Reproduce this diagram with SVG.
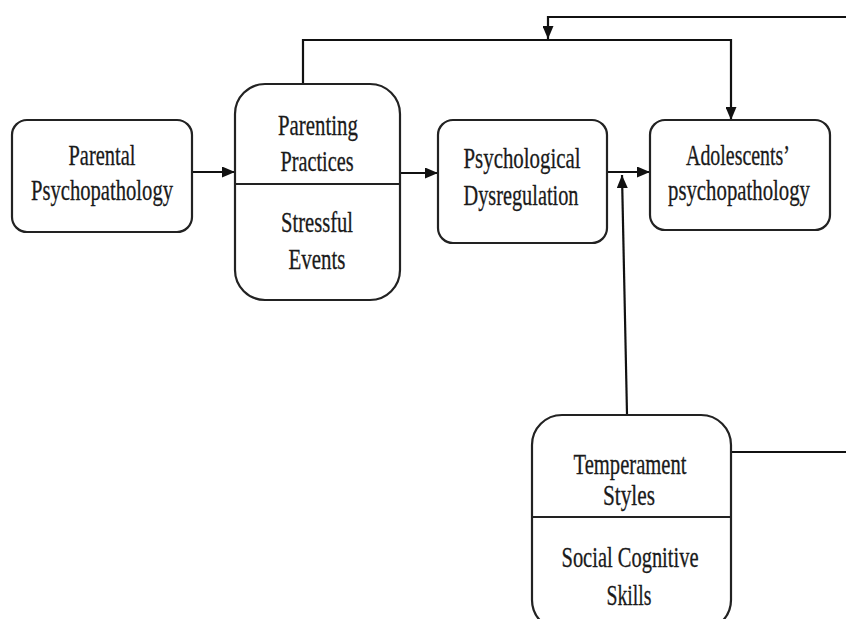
<svg xmlns="http://www.w3.org/2000/svg" width="846" height="619" viewBox="0 0 846 619">
<defs>
<marker id="ah" viewBox="0 0 13 11" refX="13" refY="5.5" markerWidth="13" markerHeight="11" markerUnits="userSpaceOnUse" orient="auto">
<path d="M0,0 L13,5.5 L0,11 Z" fill="#111"/>
</marker>
</defs>
<style>
.box{fill:#fff;stroke:#222;stroke-width:2.2}
.div{stroke:#222;stroke-width:2.2}
.ln{fill:none;stroke:#111;stroke-width:2.2}
.t{font-family:"Liberation Serif","Times New Roman","DejaVu Serif",serif;font-size:30px;fill:#1a1a1a;stroke:#1a1a1a;stroke-width:0.3;text-anchor:middle}
</style>
<rect width="846" height="619" fill="#fff"/>
<g id="connectors">
<polyline class="ln" points="846,17 548,17 548,39" marker-end="url(#ah)"/>
<polyline class="ln" points="303,84 303,40 731,40 731,120" marker-end="url(#ah)"/>
<line class="ln" x1="192" y1="172" x2="235" y2="172" marker-end="url(#ah)"/>
<line class="ln" x1="400" y1="173" x2="438" y2="173" marker-end="url(#ah)"/>
<line class="ln" x1="607" y1="172" x2="650" y2="172" marker-end="url(#ah)"/>
<line class="ln" x1="627" y1="414" x2="622" y2="175" stroke-width="1.6" marker-end="url(#ah)"/>
<line class="ln" x1="731" y1="452" x2="846" y2="452"/>
</g>
<g id="parental">
<rect class="box" x="12" y="120" width="180" height="112" rx="15"/>
<text class="t" x="102" y="165" textLength="67" lengthAdjust="spacingAndGlyphs">Parental</text>
<text class="t" x="102" y="200" textLength="142" lengthAdjust="spacingAndGlyphs">Psychopathology</text>
</g>
<g id="parenting">
<rect class="box" x="235" y="84" width="165" height="216" rx="30"/>
<line class="div" x1="235" y1="184" x2="400" y2="184"/>
<text class="t" x="318" y="135" textLength="80" lengthAdjust="spacingAndGlyphs">Parenting</text>
<text class="t" x="317" y="171" textLength="73" lengthAdjust="spacingAndGlyphs">Practices</text>
<text class="t" x="317" y="232" textLength="72" lengthAdjust="spacingAndGlyphs">Stressful</text>
<text class="t" x="317" y="269" textLength="57" lengthAdjust="spacingAndGlyphs">Events</text>
</g>
<g id="psychological">
<rect class="box" x="438" y="120" width="169" height="123" rx="15"/>
<text class="t" x="522" y="168" textLength="117" lengthAdjust="spacingAndGlyphs">Psychological</text>
<text class="t" x="521" y="205" textLength="115" lengthAdjust="spacingAndGlyphs">Dysregulation</text>
</g>
<g id="adolescents">
<rect class="box" x="650" y="120" width="180" height="110" rx="15"/>
<text class="t" x="738" y="165" textLength="104" lengthAdjust="spacingAndGlyphs">Adolescents’</text>
<text class="t" x="739" y="200" textLength="142" lengthAdjust="spacingAndGlyphs">psychopathology</text>
</g>
<g id="temperament">
<rect class="box" x="532" y="415" width="199" height="215" rx="30"/>
<line class="div" x1="532" y1="517" x2="731" y2="517"/>
<text class="t" x="630" y="474" textLength="113" lengthAdjust="spacingAndGlyphs">Temperament</text>
<text class="t" x="629" y="505" textLength="52" lengthAdjust="spacingAndGlyphs">Styles</text>
<text class="t" x="630" y="567" textLength="137" lengthAdjust="spacingAndGlyphs">Social Cognitive</text>
<text class="t" x="629" y="605" textLength="45" lengthAdjust="spacingAndGlyphs">Skills</text>
</g>
</svg>
